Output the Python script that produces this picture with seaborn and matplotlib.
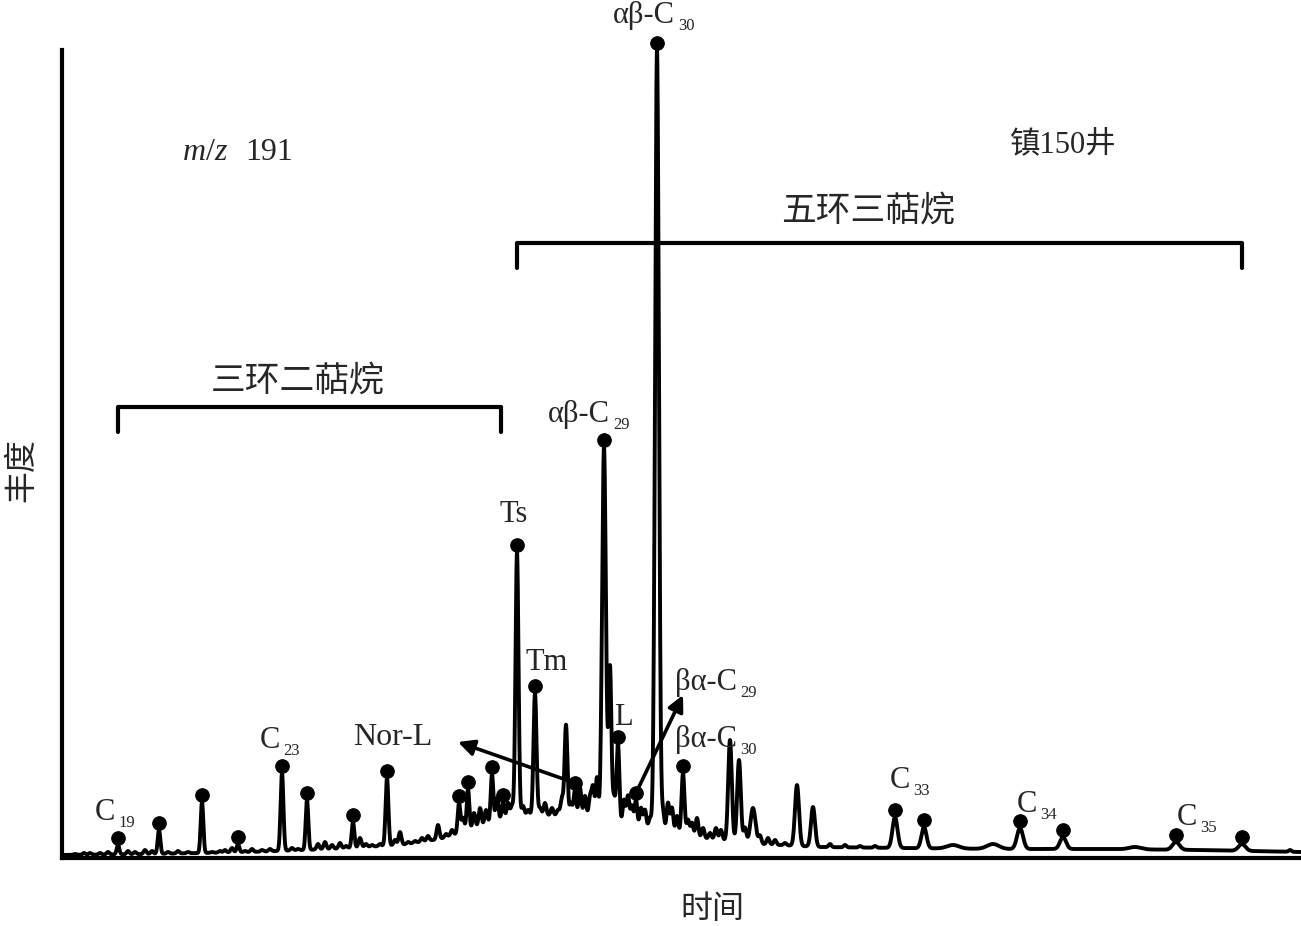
import numpy as np
import pandas as pd
import matplotlib
matplotlib.use("Agg")
import matplotlib.pyplot as plt
from matplotlib.transforms import offset_copy
import seaborn as sns

# ---------------- data ----------------
# retention position (arbitrary time units), apex abundance, peak sigma
major_time = [118, 159, 202, 238, 282, 307, 353, 387, 459, 468, 492, 503,
              517, 535, 566, 575, 597, 604, 610, 618, 636, 657, 683,
              730, 739, 753, 797, 813, 895, 924, 953, 993, 1020, 1063, 1135, 1176, 1242]
major_apex = [13, 28, 56, 14, 85, 58, 36, 80, 55, 69, 84, 56,
              306, 165, 133, 68, 80, 411, 190, 114, 58, 808, 85,
              118, 98, 50, 73, 51, 41, 31, 13, 14, 30, 21, 11, 16, 14]
major_sigma = [1.3, 1.3, 1.3, 1.3, 1.4, 1.3, 1.3, 1.4, 1.3, 1.3, 1.3, 1.3,
               1.5, 1.5, 1.4, 1.3, 1.3, 1.9, 1.4, 1.4, 1.3, 1.9, 1.5,
               1.8, 1.8, 2.5, 2.0, 2.0, 2.5, 2.5, 6.0, 6.0, 3.0, 3.0, 6.0, 3.5, 3.5]

# small unlabelled peaks (noise-level components)
minor_time = [75, 84, 90, 100, 108, 128, 135, 145, 152, 168, 178, 188, 212, 220,
              225, 232, 245, 252, 262, 270, 292, 298, 318, 325, 332, 340, 346,
              360, 366, 372, 380, 395, 400, 408, 415, 422, 428, 438, 446, 452,
              463, 474, 480, 486, 497, 508, 512, 523, 528, 540, 545, 552, 558,
              562, 571, 580, 585, 590, 593, 614, 624, 628, 632, 641, 645, 650,
              663, 668, 672, 677, 688, 692, 697, 703, 710, 716, 721, 745, 760,
              768, 775, 785, 830, 845, 860, 875, 1290]
minor_apex = [4, 5, 5, 5, 6, 7, 6, 8, 7, 6, 7, 6, 6, 7,
              8, 10, 7, 9, 8, 9, 10, 9, 14, 16, 13, 15, 12,
              20, 14, 13, 14, 18, 26, 16, 17, 20, 22, 33, 24, 28,
              40, 45, 50, 48, 60, 55, 52, 52, 48, 50, 55, 50, 48,
              60, 55, 70, 62, 60, 70, 60, 58, 62, 52, 50, 48, 40,
              45, 55, 50, 42, 38, 35, 40, 30, 25, 30, 28, 30, 22,
              20, 18, 15, 14, 13, 12, 12, 8]
minor_sigma = 1.4

# peaks marked with a dot
marked_time = [118, 159, 202, 238, 282, 307, 353, 387, 459, 468, 492, 503,
               517, 535, 575, 604, 618, 636, 657, 683, 895, 924, 1020, 1063, 1176, 1242]

# rising baseline (column bleed hump)
baseline_time = [62, 150, 250, 330, 400, 440, 470, 500, 530, 570, 600, 640,
                 680, 720, 760, 820, 900, 1000, 1100, 1200, 1301]
baseline_level = [3, 4, 6, 9, 13, 19, 28, 38, 43, 42, 36, 30,
                  22, 18, 14, 11, 10, 9, 9, 8, 6]

# ---------------- build trace ----------------
t = np.arange(62, 1301, 0.2)
signal = np.interp(t, baseline_time, baseline_level)
all_time = major_time + minor_time
all_apex = major_apex + minor_apex
all_sigma = major_sigma + [minor_sigma] * len(minor_time)
for pt, pa, ps in zip(all_time, all_apex, all_sigma):
    amp = max(pa - np.interp(pt, baseline_time, baseline_level), 0)
    signal = signal + amp * np.exp(-0.5 * ((t - pt) / ps) ** 2)

trace = pd.DataFrame({"time": t, "abundance": signal})
dot_y = [signal[np.abs(t - m).argmin()] + 7 for m in marked_time]
dots = pd.DataFrame({"time": marked_time, "abundance": dot_y})

# ---------------- figure ----------------
sns.set_style("white")
plt.rcParams["font.family"] = ["Liberation Serif", "Noto Sans CJK SC"]
plt.rcParams["mathtext.fontset"] = "custom"
plt.rcParams["mathtext.rm"] = "Liberation Serif"
plt.rcParams["mathtext.it"] = "Liberation Serif:italic"

W, H = 1301, 926
fig = plt.figure(figsize=(W / 100, H / 100), dpi=100)
ax = fig.add_axes([62 / W, (H - 858) / H, (W - 62) / W, (858 - 50) / H])

sns.lineplot(data=trace, x="time", y="abundance", ax=ax, color="black",
             lw=2.8, estimator=None, sort=False)
sns.scatterplot(data=dots, x="time", y="abundance", ax=ax, color="black",
                s=95, edgecolor="black", zorder=5, clip_on=False)

ax.set_xlim(62, 1301)
ax.set_ylim(0, 808)
ax.set_xticks([])
ax.set_yticks([])
ax.set_xlabel("")
ax.set_ylabel("")
for side in ["top", "right"]:
    ax.spines[side].set_visible(False)
for side in ["left", "bottom"]:
    ax.spines[side].set_linewidth(3)
    ax.spines[side].set_color("black")

renderer = fig.canvas.get_renderer()

def clabel(x, y, main, sub=None, size=22, subsize=12):
    """main text left-aligned at (x, baseline y), with a lowered subscript."""
    txt = ax.text(x, y, main, fontsize=size, ha="left", va="baseline", clip_on=False)
    if sub:
        w = txt.get_window_extent(renderer).width
        tr = offset_copy(ax.transData, fig=fig, x=w + 3, y=-7, units="dots")
        ax.text(x, y, sub, fontsize=subsize, ha="left", va="baseline",
                transform=tr, clip_on=False)

clabel(613, 835, "αβ-C", "30")
clabel(548, 436, "αβ-C", "29")
clabel(500, 336, "Ts")
clabel(525, 188, "Tm")
clabel(614, 133, "L")
clabel(353, 113, "Nor-L", size=23)
clabel(675, 168, "βα-C", "29")
clabel(675, 111, "βα-C", "30")
clabel(260, 110, "C", "23")
clabel(95, 38, "C", "19")
clabel(890, 70, "C", "33")
clabel(1017, 46, "C", "34")
clabel(1177, 33, "C", "35")
ax.text(182, 698, r"$m/z$", fontsize=23, ha="left", va="baseline")
ax.text(245, 698, "191", fontsize=23, ha="left", va="baseline")
ax.text(1063, 713, "镇150井", fontsize=22, ha="center", va="center")
ax.text(298, 475, "三环二萜烷", fontsize=25, ha="center", va="center")
ax.text(868, 645, "五环三萜烷", fontsize=25, ha="center", va="center")

# brackets
ax.plot([118, 118, 501, 501], [426, 451, 451, 426], color="black", lw=3, clip_on=False)
ax.plot([517, 517, 1242, 1242], [590, 615, 615, 590], color="black", lw=3, clip_on=False)

# arrows
arrow = dict(arrowstyle="-|>", lw=2.6, color="black", mutation_scale=24, shrinkA=4, shrinkB=0)
ax.annotate("", xy=(458, 116), xytext=(575, 75), arrowprops=arrow)
ax.annotate("", xy=(683, 163), xytext=(636, 65), arrowprops=arrow)

fig.text(712 / W, 1 - 910 / H, "时间", fontsize=23, ha="center", va="center")
fig.text(22 / W, 1 - 470 / H, "丰度", fontsize=23, ha="center", va="center", rotation=90)

fig.savefig("out.png", dpi=100)
